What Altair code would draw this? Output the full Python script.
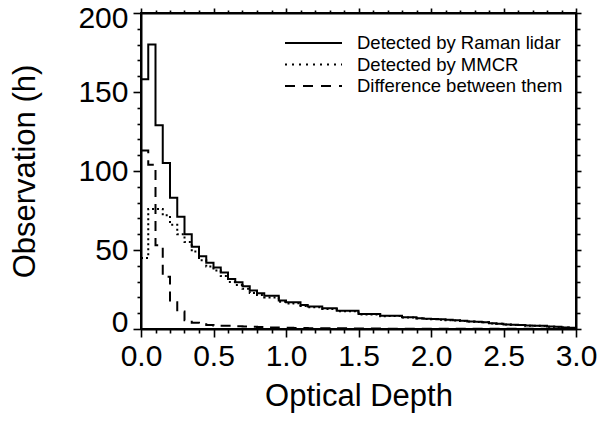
import altair as alt
import pandas as pd

# ---------------- data (histogram bins of width 0.05 from 0 to 3) ----------------
bin_width = 0.05
raman = [158, 180, 129, 105, 83, 71, 60, 52, 46, 42,
         39, 35.7, 31.7, 29.6, 27, 24.3, 22.7, 21, 21, 18,
         17, 17, 15.2, 14.2, 14.2, 13.1, 13.1, 11.6, 11.6, 11.6,
         9.5, 9.5, 9.5, 8.4, 8.4, 8.4, 7.4, 7.4, 6.8, 6.5,
         6.3, 6.1, 5.8, 5.6, 5.3, 4.8, 4.6, 4.3, 3.6, 3.4,
         2.9, 2.7, 2.6, 2.2, 2.1, 2.0, 1.6, 1.4, 1.0, 0.8]
mmcr = [45, 76, 76, 72, 66, 60, 55, 49, 43.5, 39.5,
        37, 33.5, 29.7, 27.8, 25.4, 22.8, 21.5, 20, 20, 17.2,
        16.2, 16.3, 14.6, 13.7, 13.7, 12.6, 12.7, 11.2, 11.2, 11.3,
        9.2, 9.2, 9.2, 8.1, 8.2, 8.2, 7.2, 7.2, 6.6, 6.3,
        6.1, 5.9, 5.6, 5.4, 5.1, 4.7, 4.5, 4.2, 3.5, 3.3,
        2.8, 2.6, 2.5, 2.1, 2.0, 1.9, 1.5, 1.3, 0.9, 0.7]
diff = [113, 104, 53, 33, 17, 11, 5.5, 4, 3, 2.5,
        2, 2, 2, 1.8, 1.6, 1.5, 1.2, 1, 1, 0.8,
        0.8, 0.7, 0.6, 0.5, 0.5, 0.5, 0.4, 0.4, 0.4, 0.3,
        0.3, 0.3, 0.3, 0.3, 0.2, 0.2, 0.2, 0.2, 0.2, 0.2,
        0.2, 0.2, 0.2, 0.2, 0.2, 0.1, 0.1, 0.1, 0.1, 0.1,
        0.1, 0.1, 0.1, 0.1, 0.1, 0.1, 0.1, 0.1, 0.1, 0.1]

legend_labels = ["Detected by Raman lidar", "Detected by MMCR", "Difference between them"]
x_tick_values = [round(i * 0.1, 1) for i in range(31)]
y_tick_values = list(range(0, 201, 10))

FONT = "Liberation Sans"


def step_frame(vals):
    xs = [round(i * bin_width, 2) for i in range(len(vals))] + [3.0]
    ys = list(vals) + [vals[-1]]
    return pd.DataFrame({"x": xs, "y": ys})


xcond = "abs(datum.value*2 - round(datum.value*2)) < 0.001"
ycond = "datum.value % 50 === 0"

xscale = alt.Scale(domain=[0, 3], nice=False, zero=False)
yscale = alt.Scale(domain=[0, 200], nice=False, zero=False)

x_axis = alt.Axis(
    values=x_tick_values,
    labelExpr=f"{xcond} ? format(datum.value, '.1f') : ''",
    tickSize={"condition": {"test": xcond, "value": 8}, "value": 4},
    tickWidth=1.6, tickColor="black",
    domainColor="black", domainWidth=2,
    labelFont=FONT, labelFontSize=30, labelColor="black",
    labelPadding=4, labelFlush=False, labelOverlap=False,
    title="Optical Depth", titleFont=FONT, titleFontSize=31,
    titleFontWeight="normal", titleColor="black", titlePadding=10,
    grid=False,
)
y_axis = alt.Axis(
    values=y_tick_values,
    labelExpr=f"{ycond} ? format(datum.value, 'd') : ''",
    labelOffset={
        "condition": [
            {"test": "datum.value === 200", "value": 5},
            {"test": "datum.value === 0", "value": -7},
        ],
        "value": 0,
    },
    tickSize={"condition": {"test": ycond, "value": 8}, "value": 4},
    tickWidth=1.6, tickColor="black",
    domainColor="black", domainWidth=2,
    labelFont=FONT, labelFontSize=30, labelColor="black",
    labelPadding=5, labelFlush=False, labelOverlap=False,
    title="Observation (h)", titleFont=FONT, titleFontSize=31,
    titleFontWeight="normal", titleColor="black", titlePadding=36,
    grid=False,
)


def step_line(vals, **mark_kw):
    return alt.Chart(step_frame(vals)).mark_line(
        interpolate="step-after", color="black", strokeWidth=2, **mark_kw
    ).encode(
        x=alt.X("x:Q", scale=xscale, axis=x_axis),
        y=alt.Y("y:Q", scale=yscale, axis=y_axis),
    )


solid = step_line(raman)
dotted = step_line(mmcr, strokeDash=[2, 3])
dashed = step_line(diff, strokeDash=[10, 7])

# legend (inside plot, top right)
one = pd.DataFrame({"a": [0]})
dashes = [[1, 0], [2, 5], [10, 8]]
legend_layers = []
for i, (lab, dash) in enumerate(zip(legend_labels, dashes)):
    ypix = 30 + i * 21.5
    legend_layers.append(
        alt.Chart(one).mark_rule(color="black", strokeWidth=2, strokeDash=dash).encode(
            x=alt.value(144), x2=alt.value(201), y=alt.value(ypix)
        )
    )
    legend_layers.append(
        alt.Chart(one).mark_text(
            text=lab, font=FONT, fontSize=18.5, color="black",
            align="left", baseline="middle"
        ).encode(x=alt.value(216), y=alt.value(ypix))
    )

inner = alt.layer(solid, dotted, dashed, *legend_layers)

# top / right tick axes (same domains)
x_top = alt.Axis(
    orient="top", values=x_tick_values, labels=False, title=None,
    tickSize={"condition": {"test": xcond, "value": 5}, "value": 3},
    tickWidth=1.6, tickColor="black", domainColor="black", domainWidth=2, grid=False,
)
y_right = alt.Axis(
    orient="right", values=y_tick_values, labels=False, title=None,
    tickSize={"condition": {"test": ycond, "value": 5}, "value": 4},
    tickWidth=1.6, tickColor="black", domainColor="black", domainWidth=2, grid=False,
)
frame = alt.Chart(step_frame(raman)).mark_line(strokeOpacity=0).encode(
    x=alt.X("x:Q", scale=xscale, axis=x_top),
    y=alt.Y("y:Q", scale=yscale, axis=y_right),
)

chart = alt.layer(inner, frame).resolve_scale(
    x="independent", y="independent"
).properties(
    width=435, height=316,
    autosize=alt.AutoSizeParams(type="none"),
    padding={"left": 141, "top": 13, "right": 26, "bottom": 94},
    background="white",
).configure_view(stroke="black", strokeWidth=2)

chart.save("out.html", embed_options={"renderer": "svg", "actions": False})
